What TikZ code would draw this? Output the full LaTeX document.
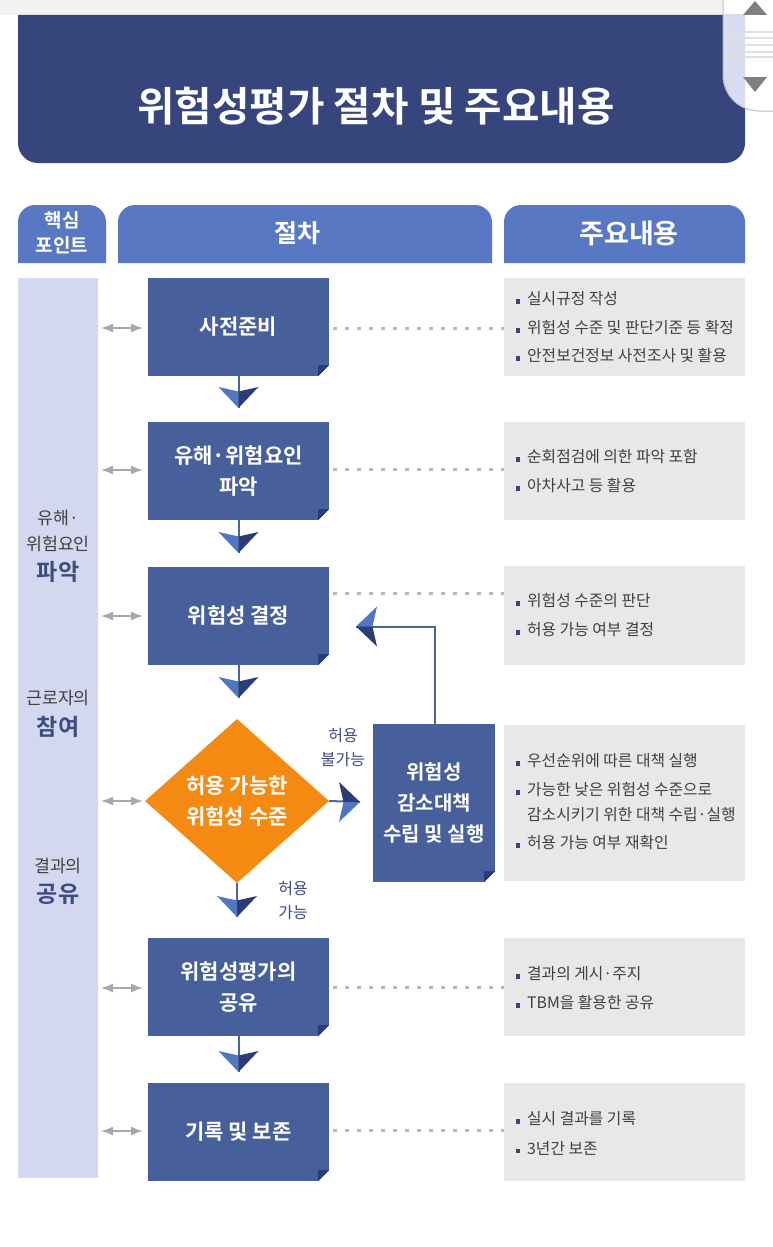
\documentclass[tikz,border=0pt]{standalone}
\usepackage{fontspec}
\setmainfont{Noto Sans CJK KR}[BoldFont={Noto Sans CJK KR Bold}]
\usetikzlibrary{shapes.geometric,arrows.meta}
\definecolor{navy}{HTML}{36457C}
\definecolor{headblue}{HTML}{5878C4}
\definecolor{boxblue}{HTML}{475F9B}
\definecolor{folddark}{HTML}{2C3D75}
\definecolor{tipblue}{HTML}{4F76C0}
\definecolor{sidelav}{HTML}{D3D8F0}
\definecolor{notegray}{HTML}{E8E8E8}
\definecolor{arrowgray}{HTML}{A8A8A8}
\definecolor{linkblue}{HTML}{4A6699}
\definecolor{darktext}{HTML}{404040}
\definecolor{slabel}{HTML}{3C4C80}
\definecolor{orangebox}{HTML}{F58A12}
\tikzset{
	tonehead/.pic={
		\fill[tipblue] (0,0) -- (-20,-21) -- (0,-16.5) -- cycle;
		\fill[folddark] (0,0) -- (20,-21) -- (0,-16.5) -- cycle;
	}
}
\begin{document}
\begin{tikzpicture}[x=1pt,y=-1pt]
	\tikzstyle{step_i} = [rectangle, fill=boxblue, text=white, font=\fontsize{21}{31}\selectfont\bfseries, align=center, minimum width=181pt, minimum height=98pt, inner sep=0pt]
	\tikzstyle{note_i} = [rectangle, fill=notegray, minimum width=241pt, inner sep=0pt]
	\tikzstyle{item} = [anchor=west, text=darktext, font=\fontsize{15.8}{20}\selectfont, inner sep=0pt]
	\tikzstyle{side_s} = [text=darktext, font=\fontsize{17.3}{26}\selectfont, align=center, inner sep=0pt]
	\tikzstyle{side_b} = [text=slabel, font=\fontsize{23}{30}\selectfont\bfseries, inner sep=0pt]
	\tikzstyle{small_l} = [text=slabel, font=\fontsize{16}{24}\selectfont, align=center, inner sep=0pt]
	\tikzstyle{biedge} = [arrowgray, line width=1.6pt, <->, >={Latex[length=12pt,width=9pt]}]
	\tikzstyle{dotted_e} = [gray!55, line width=3pt, dash pattern=on 4pt off 8pt]
	\tikzstyle{edge} = [linkblue, line width=2pt]

	\useasboundingbox (0,0) rectangle (773,1247);

	%title band
	\fill[black!5] (0,0) rectangle (723,15);
	\fill[navy] (18,15) [rounded corners=20pt] -- (18,163) -- (745,163) [sharp corners] -- (745,15) -- cycle;
	\node[text=white, font=\fontsize{40.7}{44}\selectfont\bfseries] (title) at (376,106) {위험성평가 절차 및 주요내용};

	%tab of the page
	\fill[white] (723,0) [rounded corners=36pt] -- (723,111) [sharp corners] -- (773,111) -- (773,0) -- cycle;
	\begin{scope}
		\clip (723,15) rectangle (745,163);
		\fill[sidelav!90!white] (723,0) [rounded corners=36pt] -- (723,111) [sharp corners] -- (773,111) -- (773,0) -- cycle;
	\end{scope}
	\foreach \y in {32,38,45,52,57}
		\draw[gray!25, line width=2pt] (723,\y) -- (773,\y);
	\draw[gray!50, line width=1pt] (723,0) [rounded corners=36pt] -- (723,111) [sharp corners] -- (773,111);
	\fill[gray] (743,15) -- (767,15) -- (755,1) -- cycle;
	\fill[gray] (743,77) -- (767,77) -- (755,92) -- cycle;

	%column heads
	\foreach \name/\x/\w/\cx/\txt/\fs in {hpoint/18/88/62/핵심\\포인트/19, hstep/118/374/297/절차/25, hnote/504/241/629/주요내용/27} {
		\fill[headblue] (\x,263) [rounded corners=17pt] -- (\x,205) -- (\x+\w,205) [sharp corners] -- (\x+\w,263) -- cycle;
		\node[text=white, font=\fontsize{\fs}{25}\selectfont\bfseries, align=center] (\name) at (\cx,233) {\txt};
	}

	%side strip
	\node[fill=sidelav, minimum width=80pt, minimum height=900pt, inner sep=0pt, anchor=north west] (strip) at (18,278) {};
	\node[side_s] (s1) at (58,531) {유해·\\위험요인};
	\node[side_b] (s1b) at (58,572) {파악};
	\node[side_s] (s2) at (58,698) {근로자의};
	\node[side_b] (s2b) at (58,727) {참여};
	\node[side_s] (s3) at (58,866) {결과의};
	\node[side_b] (s3b) at (58,894) {공유};

	%notes
	\foreach \name/\y/\h in {n1/278/98, n2/422/98, n3/566/99, n4/725/156, n5/938/98, n6/1083/98}
		\node[note_i, minimum height=\h pt, anchor=north west] (\name) at (504,\y) {};

	%steps
	\foreach \name/\y/\txt in {b1/327/사전준비, b2/471/유해·위험요인\\파악, b3/616/위험성 결정, b5/987/위험성평가의\\공유, b6/1132/기록 및 보존}
		\node[step_i] (\name) at (238.5,\y) {\txt};
	\node[step_i, minimum width=122pt, minimum height=158pt, font=\fontsize{20}{31}\selectfont\bfseries] (b4) at (434,803) {위험성\\감소대책\\수립 및 실행};
	\node[diamond, fill=orangebox, text=white, font=\fontsize{21}{31}\selectfont\bfseries, align=center, minimum width=184pt, minimum height=164pt, inner sep=0pt, aspect=1.12] (level) at (237,801) {허용 가능한\\위험성 수준};

	%folded corners
	\foreach \name in {b1,b2,b3,b4,b5,b6} {
		\fill[white] (\name.south east) -- ++(-11,0) -- ++(11,-11) -- cycle;
		\fill[folddark] (\name.south east) ++(-11,0) -- ++(0,-11) -- ++(11,0) -- cycle;
	}

	%links to the side strip
	\foreach \name/\y in {b1/328, b2/470, b3/616, b5/988, b6/1131} {
		\coordinate (l\name) at (101,\y);
		\coordinate (r\name) at (143,\y);
		\draw[biedge] (l\name) -- (r\name);
	}
	\coordinate (llevel) at (101,801);
	\coordinate (rlevel) at (143,801);
	\draw[biedge] (llevel) -- (rlevel);

	%dotted links
	\foreach \name/\y in {b1/328, b2/469, b3/593, b5/987, b6/1130} {
		\coordinate (d\name) at (333,\y);
		\coordinate (e\name) at (504,\y);
		\draw[dotted_e] (d\name) -- (e\name);
	}

	%flow
	\foreach \from/\to/\y in {b1/h1/408, b2/h2/553, b3/h3/698, level/h4/917, b5/h5/1072} {
		\path (\from.south) -- ++(0,1) coordinate (top);
		\coordinate (\to) at (top |- 0,\y);
		\draw[edge] (\from.south) -- (\to);
		\pic at (\to) {tonehead};
	}
	\coordinate (h6) at (360,802);
	\draw[edge] (level.east) -- (h6);
	\pic[rotate=90] at (h6) {tonehead};
	\coordinate (h7) at (356,626.5);
	\coordinate (turn) at (435,626.5);
	\draw[edge] (b4.north -| turn) -- (turn) -- (h7);
	\pic[rotate=-90] at (h7) {tonehead};

	\node[small_l] (no) at (343,747) {허용\\불가능};
	\node[small_l] (yes) at (293,900) {허용\\가능};

	%note texts
	\def\bul{\tikz[baseline=-1pt]\fill[navy] (0,0) rectangle (4.5pt,4.5pt);\hspace{7pt}}
	\foreach \name/\y/\txt in {i11/299/실시규정 작성, i12/328/위험성 수준 및 판단기준 등 확정, i13/356/안전보건정보 사전조사 및 활용,
		i21/457/순회점검에 의한 파악 포함, i22/486/아차사고 등 활용,
		i31/601/위험성 수준의 판단, i32/630/허용 가능 여부 결정,
		i41/761/우선순위에 따른 대책 실행, i42/790/가능한 낮은 위험성 수준으로, i44/843/허용 가능 여부 재확인,
		i51/974/결과의 게시·주지, i52/1003/TBM을 활용한 공유,
		i61/1119/실시 결과를 기록, i62/1148/3년간 보존}
		\node[item] (\name) at (515.5,\y) {\bul\txt};
	\node[item] (i43) at (527,815) {감소시키기 위한 대책 수립·실행};
\end{tikzpicture}
\end{document}
